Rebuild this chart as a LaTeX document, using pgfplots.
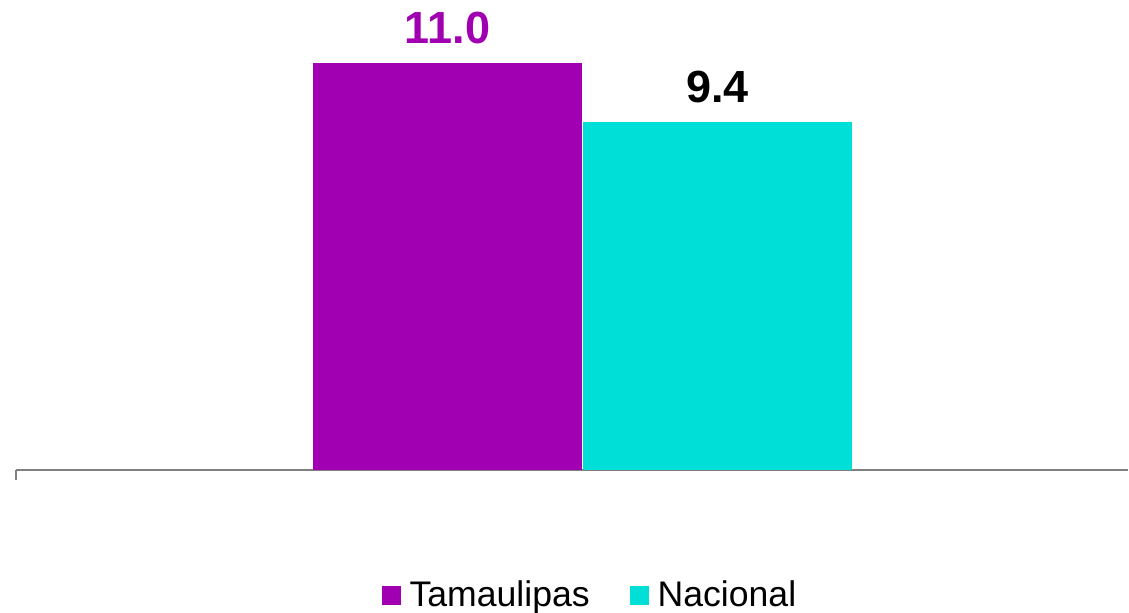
\documentclass[border=0pt]{standalone}
\usepackage{pgfplots}
\pgfplotsset{compat=1.18}
\usepackage{fontspec}
\setmainfont{Liberation Sans}
\definecolor{tam}{RGB}{161,0,178}
\definecolor{nac}{RGB}{0,222,216}
\definecolor{axgray}{RGB}{128,128,128}
\begin{document}
\begin{tikzpicture}
\path[use as bounding box] (0,0) rectangle (564.5pt,306pt);
\begin{axis}[
  at={(8pt,71pt)}, anchor=south west,
  width=556pt, height=235pt, scale only axis,
  xmin=16, xmax=1128, ymin=0, ymax=12.7,
  axis x line=bottom, axis y line=none,
  axis line style={axgray, line width=1pt, -},
  xtick=\empty, ytick=\empty,
  clip=false,
  ybar, bar width=269, bar shift=0pt,
  nodes near coords={\pgfmathprintnumber[fixed,fixed zerofill,precision=1,assume math mode=true]{\pgfplotspointmeta}},
  nodes near coords style={font=\fontsize{22.5}{25}\selectfont\bfseries, anchor=south, inner sep=0pt, yshift=9.5pt},
  legend style={at={(0.517,-0.266)}, anchor=center, draw=none, legend columns=2,
    font=\fontsize{17.8}{20}\selectfont,
    /tikz/every odd column/.append style={column sep=2.5pt},
    /tikz/every even column/.append style={column sep=18pt}},
  legend image code/.code={\fill[#1] (0pt,-4.75pt) rectangle (9.5pt,4.75pt);},
]
\addplot[fill=tam, draw=none, nodes near coords style={text=tam}] coordinates {(447.5,11.0)};
\addlegendentry{Tamaulipas}
\addplot[fill=nac, draw=none, nodes near coords style={text=black}] coordinates {(717.5,9.4)};
\addlegendentry{Nacional}
\draw[axgray, line width=1pt] (axis cs:16,0) -- ([yshift=-5pt]axis cs:16,0);
\end{axis}
\end{tikzpicture}
\end{document}
